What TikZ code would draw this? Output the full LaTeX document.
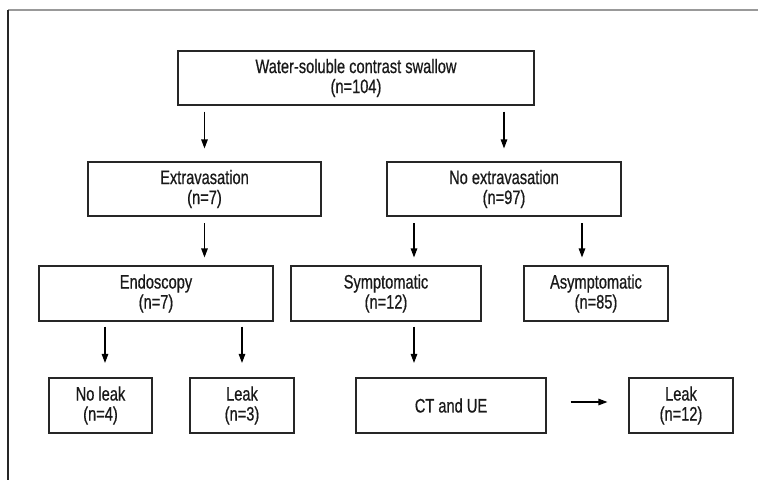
\documentclass[tikz,border=0pt]{standalone}
\usepackage{fontspec}
\setmainfont{Liberation Sans}[FakeStretch=0.75, FakeBold=0.6]
\usetikzlibrary{arrows.meta}
\tikzset{
  box/.style={draw=black!85, line width=1.1pt, rectangle, align=center, inner sep=0pt,
    font=\fontsize{19.5pt}{20pt}\selectfont, text=black!90},
  arr/.style={line width=1.1pt, -{Triangle[length=9pt,width=6.5pt]}},
}
\begin{document}
\begin{tikzpicture}[x=1pt,y=-1pt]
\useasboundingbox (0,0) rectangle (758,480);
% frame
\coordinate (fTL) at (8,10);
\coordinate (fTR) at (758,10);
\coordinate (fBL) at (8,480);
\draw[gray!80, line width=1.2pt] (fTL) -- (fTR);
\draw[black!85, line width=1.2pt] (fTL) -- (fBL);
% nodes
\node[box, minimum width=356pt, minimum height=54pt] (top) at (356,78) {Water-soluble contrast swallow\\(n=104)};
\node[box, minimum width=233pt, minimum height=54pt] (ext) at (204.5,189) {Extravasation\\(n=7)};
\node[box, minimum width=234pt, minimum height=54pt] (noext) at (504,189) {No extravasation\\(n=97)};
\node[box, minimum width=234pt, minimum height=55pt] (endo) at (156,293.5) {Endoscopy\\(n=7)};
\node[box, minimum width=190pt, minimum height=55pt] (sym) at (386,293.5) {Symptomatic\\(n=12)};
\node[box, minimum width=144pt, minimum height=55pt] (asym) at (596,293.5) {Asymptomatic\\(n=85)};
\node[box, minimum width=103pt, minimum height=55pt] (noleak) at (100.5,405.5) {No leak\\(n=4)};
\node[box, minimum width=104pt, minimum height=55pt] (leak) at (242,405.5) {Leak\\(n=3)};
\node[box, minimum width=190pt, minimum height=55pt] (ct) at (451,405.5) {CT and UE};
\node[box, minimum width=104pt, minimum height=55pt] (leaktw) at (681,405.5) {Leak\\(n=12)};
% arrows
\draw[arr, shorten <=6pt, shorten >=13pt] (top.south -| ext.north) -- (ext.north);
\draw[arr, shorten <=6pt, shorten >=13pt] (top.south -| noext.north) -- (noext.north);
\draw[arr, shorten <=6.5pt, shorten >=8pt] (ext.south) -- (ext.south |- endo.north);
\draw[arr, shorten <=6.5pt, shorten >=8pt] ([xshift=-90pt]noext.south) -- ([xshift=-90pt]noext.south |- sym.north);
\draw[arr, shorten <=6.5pt, shorten >=8pt] ([xshift=78pt]noext.south) -- ([xshift=78pt]noext.south |- asym.north);
\draw[arr, shorten <=5pt, shorten >=14.5pt] ([xshift=-51pt]endo.south) -- ([xshift=-51pt]endo.south |- noleak.north);
\draw[arr, shorten <=5pt, shorten >=14.5pt] (endo.south -| leak.north) -- (leak.north);
\draw[arr, shorten <=5pt, shorten >=14.5pt] ([xshift=28pt]sym.south) -- ([xshift=28pt]sym.south |- ct.north);
\draw[arr, shorten <=24pt, shorten >=21pt] ([yshift=3.5pt]ct.east) -- ([yshift=3.5pt]leaktw.west);
\end{tikzpicture}
\end{document}
